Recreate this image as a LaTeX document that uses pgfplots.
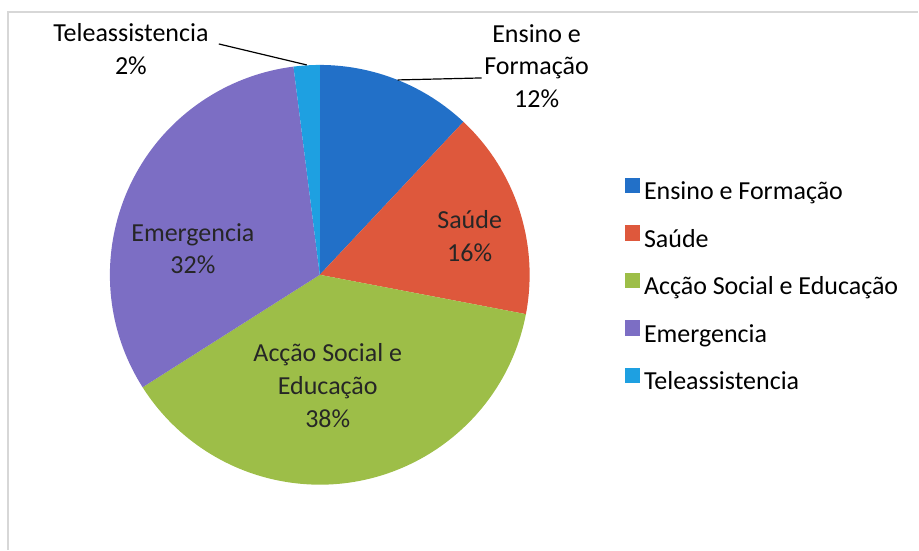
\documentclass[border=0pt]{standalone}
\usepackage{pgfplots}
\pgfplotsset{compat=1.18}
\usepackage{pgfplotstable}
\usepackage{fontspec}
\setmainfont{Carlito}
\definecolor{cA}{RGB}{34,112,200}
\definecolor{cB}{RGB}{222,88,60}
\definecolor{cC}{RGB}{157,190,72}
\definecolor{cD}{RGB}{124,110,196}
\definecolor{cE}{RGB}{30,160,225}
\definecolor{frame}{RGB}{215,215,215}
\newcommand{\lab}{\fontsize{19.5pt}{24.5pt}\selectfont}
\begin{document}
\pgfplotstableread[col sep=comma]{
name,value
Ensino e Formação,12
Saúde,16
Acção Social e Educação,38
Emergencia,32
Teleassistencia,2
}\piedata
\begin{tikzpicture}
\pgfplotstablegetelem{0}{value}\of\piedata \pgfmathsetmacro\eA{90-3.6*\pgfplotsretval}
\pgfplotstablegetelem{1}{value}\of\piedata \pgfmathsetmacro\eB{\eA-3.6*\pgfplotsretval}
\pgfplotstablegetelem{2}{value}\of\piedata \pgfmathsetmacro\eC{\eB-3.6*\pgfplotsretval}
\pgfplotstablegetelem{3}{value}\of\piedata \pgfmathsetmacro\eD{\eC-3.6*\pgfplotsretval}
\pgfplotstablegetelem{4}{value}\of\piedata \pgfmathsetmacro\eE{\eD-3.6*\pgfplotsretval}
\begin{axis}[
  width=689.25pt, height=412.5pt, scale only axis,
  xmin=0, xmax=919, ymin=0, ymax=550,
  hide axis, clip=false,
  legend style={draw=none, fill=none, at={(axis cs:621,375)}, anchor=north west,
    font=\lab, row sep=14.6pt, column sep=3pt,
    nodes={inner sep=0pt, text height=13.5pt, text depth=4.5pt, anchor=west}},
  legend cell align=left,
  legend image code/.code={\fill[#1] (0pt,0.8pt) rectangle (11pt,11.8pt);},
]
\path (axis cs:0,0) rectangle (axis cs:919,550);
\draw[frame, line width=1pt] (axis cs:8,0) -- (axis cs:8,538) -- (axis cs:919,538);
\fill[cA] (axis cs:320,275) -- ++(90:157.5pt) arc[start angle=90, end angle=\eA, radius=157.5pt] -- cycle;
\fill[cB] (axis cs:320,275) -- ++(\eA:157.5pt) arc[start angle=\eA, end angle=\eB, radius=157.5pt] -- cycle;
\fill[cC] (axis cs:320,275) -- ++(\eB:157.5pt) arc[start angle=\eB, end angle=\eC, radius=157.5pt] -- cycle;
\fill[cD] (axis cs:320,275) -- ++(\eC:157.5pt) arc[start angle=\eC, end angle=\eD, radius=157.5pt] -- cycle;
\fill[cE] (axis cs:320,275) -- ++(\eD:157.5pt) arc[start angle=\eD, end angle=\eE, radius=157.5pt] -- cycle;
\draw[black, line width=0.9pt] (axis cs:219,506) -- (axis cs:307,485);
\draw[black, line width=0.9pt] (axis cs:398,470) -- (axis cs:482,472);
\node[align=center, font=\lab, text=black] at (axis cs:131,501) {Teleassistencia\\2\%};
\node[align=center, font=\lab, text=black] at (axis cs:537,484) {Ensino e\\Formação\\12\%};
\node[align=center, font=\lab, text=black!85] at (axis cs:470,314) {Saúde\\16\%};
\node[align=center, font=\lab, text=black!85] at (axis cs:193,301) {Emergencia\\32\%};
\node[align=center, font=\lab, text=black!85] at (axis cs:328,164) {Acção Social e\\Educação\\38\%};
\addlegendimage{cA}
\addlegendimage{cB}
\addlegendimage{cC}
\addlegendimage{cD}
\addlegendimage{cE}
\legend{Ensino e Formação, Saúde, Acção Social e Educação, Emergencia, Teleassistencia}
\end{axis}
\end{tikzpicture}
\end{document}
